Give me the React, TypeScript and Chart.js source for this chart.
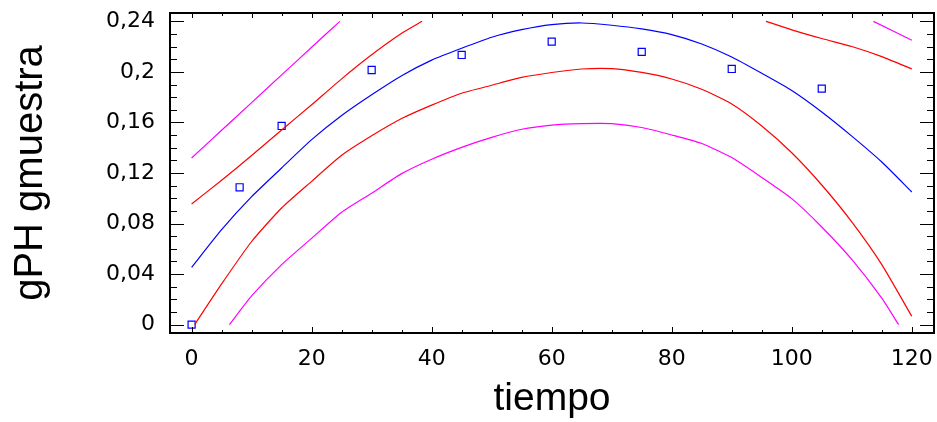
import React, { useEffect, useRef } from "react";
import { Chart, registerables } from "chart.js";

Chart.register(...registerables);

// Tick values and labels
const xTicks = [0, 20, 40, 60, 80, 100, 120];
const xTickLabels = ["0", "20", "40", "60", "80", "100", "120"];
const yTicks = [0, 0.04, 0.08, 0.12, 0.16, 0.2, 0.24];
const yTickLabels = ["0", "0,04", "0,08", "0,12", "0,16", "0,2", "0,24"];

// Observed data (blue squares)
const obsX = [0, 8, 15, 30, 45, 60, 75, 90, 105];
const obsY = [0, 0.1087, 0.1572, 0.2015, 0.2134, 0.2239, 0.2158, 0.2023, 0.1868];

// Fitted model (blue line)
const fitX = [0, 5, 10, 15, 20, 25, 30, 35, 40, 45, 50, 55, 60, 65, 70, 75, 80, 85, 90, 95, 100, 105, 110, 115, 120];
const fitY = [0.0454, 0.0752, 0.1013, 0.124, 0.1464, 0.1655, 0.1819, 0.197, 0.2093, 0.2187, 0.2274, 0.2334, 0.2374, 0.2387, 0.2369, 0.234, 0.2295, 0.2221, 0.2118, 0.1989, 0.1853, 0.1683, 0.1492, 0.1287, 0.105];

// Confidence limits (red)
const confUpperLeftX = [0, 5, 10, 15, 20, 25, 30, 35, 38.4];
const confUpperLeftY = [0.0955, 0.1143, 0.1338, 0.154, 0.174, 0.1945, 0.2135, 0.2305, 0.24];
const confUpperRightX = [95.7, 100, 105, 110, 115, 120];
const confUpperRightY = [0.24, 0.2333, 0.2264, 0.2201, 0.2121, 0.2023];
const confLowerX = [0.5, 5, 10, 15, 20, 25, 30, 35, 40, 45, 50, 55, 60, 65, 70, 75, 80, 85, 90, 95, 100, 105, 110, 115, 120];
const confLowerY = [0, 0.0322, 0.0658, 0.0923, 0.1134, 0.134, 0.1494, 0.1631, 0.1737, 0.1831, 0.1894, 0.1956, 0.1995, 0.2023, 0.2026, 0.1996, 0.1944, 0.1863, 0.1746, 0.1572, 0.136, 0.1105, 0.0813, 0.0475, 0.0066];

// Prediction limits (magenta)
const predUpperLeftX = [0, 5, 10, 15, 20, 24.7];
const predUpperLeftY = [0.1319, 0.1538, 0.1757, 0.1976, 0.2195, 0.24];
const predUpperRightX = [113.6, 120];
const predUpperRightY = [0.24, 0.225];
const predLowerX = [6.3, 10, 15, 20, 25, 30, 35, 40, 45, 50, 55, 60, 65, 70, 75, 80, 85, 90, 95, 100, 105, 110, 115, 117.8];
const predLowerY = [0, 0.0227, 0.0475, 0.0683, 0.0889, 0.104, 0.1195, 0.1309, 0.1403, 0.1482, 0.1546, 0.1579, 0.1591, 0.1591, 0.156, 0.1501, 0.1433, 0.1322, 0.1165, 0.0997, 0.0773, 0.0516, 0.021, 0];

const BLUE = "#0000ff";
const RED = "#ff0000";
const MAGENTA = "#ff00ff";

const pts = (xs: number[], ys: number[]) => xs.map((x, i) => ({ x, y: ys[i] }));

const lineDs = (label: string, xs: number[], ys: number[], color: string) => ({
  label,
  data: pts(xs, ys),
  showLine: true,
  borderColor: color,
  backgroundColor: color,
  borderWidth: 1.2,
  pointRadius: 0,
  pointHoverRadius: 0,
  tension: 0.2,
  fill: false,
});

const framePlugin = {
  id: "frameTicks",
  afterDatasetsDraw(chart: any) {
    const { ctx, chartArea, scales } = chart;
    const { left, right, top, bottom } = chartArea;
    const x = scales.x;
    const y = scales.y;
    ctx.save();
    ctx.strokeStyle = "#000";
    ctx.lineWidth = 1;
    ctx.beginPath();
    for (let v = 0; v <= 120; v += 5) {
      const px = Math.round(x.getPixelForValue(v)) + 0.5;
      const lb = v % 20 === 0 ? 6 : 3;
      const lt = v % 10 === 0 ? 5 : 3;
      ctx.moveTo(px, bottom);
      ctx.lineTo(px, bottom - lb);
      ctx.moveTo(px, top);
      ctx.lineTo(px, top + lt);
    }
    for (let i = 0; i <= 24; i++) {
      const py = Math.round(y.getPixelForValue(i / 100)) + 0.5;
      const l = i % 4 === 0 ? 14 : 7;
      ctx.moveTo(left, py);
      ctx.lineTo(left + l, py);
      ctx.moveTo(right, py);
      ctx.lineTo(right - l, py);
    }
    ctx.stroke();
    ctx.lineWidth = 2;
    ctx.strokeRect(left, top, right - left, bottom - top);
    ctx.restore();
  },
};

export default function App() {
  const canvasRef = useRef<HTMLCanvasElement | null>(null);

  useEffect(() => {
    if (!canvasRef.current) return;
    const chart = new Chart(canvasRef.current, {
      type: "scatter",
      data: {
        datasets: [
          lineDs("Prediction upper", predUpperLeftX, predUpperLeftY, MAGENTA),
          lineDs("Prediction upper 2", predUpperRightX, predUpperRightY, MAGENTA),
          lineDs("Prediction lower", predLowerX, predLowerY, MAGENTA),
          lineDs("Confidence upper", confUpperLeftX, confUpperLeftY, RED),
          lineDs("Confidence upper 2", confUpperRightX, confUpperRightY, RED),
          lineDs("Confidence lower", confLowerX, confLowerY, RED),
          lineDs("Fitted", fitX, fitY, BLUE),
          {
            label: "Observed",
            data: pts(obsX, obsY),
            showLine: false,
            pointStyle: "rect",
            pointRadius: 5,
            pointHoverRadius: 5,
            pointBorderWidth: 1.2,
            borderColor: BLUE,
            backgroundColor: "rgba(0,0,0,0)",
          } as any,
        ],
      },
      options: {
        animation: false,
        responsive: true,
        maintainAspectRatio: false,
        layout: { autoPadding: false, padding: { top: 13, right: 3, bottom: 0, left: 0 } },
        plugins: {
          legend: { display: false },
          tooltip: { enabled: false },
        },
        scales: {
          x: {
            type: "linear",
            min: -3.6,
            max: 123.7,
            afterBuildTicks: (s: any) => {
              s.ticks = xTicks.map((v) => ({ value: v }));
            },
            afterFit: (s: any) => {
              s.height = 89;
              s.paddingLeft = 0;
              s.paddingRight = 0;
            },
            grid: { display: false, drawTicks: false },
            border: { display: false },
            ticks: {
              autoSkip: false,
              maxRotation: 0,
              minRotation: 0,
              padding: 13,
              color: "#000",
              font: { family: "'DejaVu Sans'", size: 22 },
              callback: (_v: any, i: number) => xTickLabels[i],
            },
            title: {
              display: true,
              text: "tiempo",
              color: "#000",
              padding: 0,
              font: { family: "'Liberation Sans', Arial", size: 39, lineHeight: 1.15 },
            },
          },
          y: {
            type: "linear",
            min: -0.0066,
            max: 0.2466,
            afterBuildTicks: (s: any) => {
              s.ticks = yTicks.map((v) => ({ value: v }));
            },
            afterFit: (s: any) => {
              s.width = 170;
              s.paddingTop = 0;
              s.paddingBottom = 0;
            },
            grid: { display: false, drawTicks: false },
            border: { display: false },
            ticks: {
              autoSkip: false,
              padding: 15,
              color: "#000",
              font: { family: "'DejaVu Sans'", size: 22 },
              callback: (_v: any, i: number) => yTickLabels[i],
            },
            title: {
              display: true,
              text: "gPH gmuestra",
              color: "#000",
              padding: { top: 8, bottom: 0 },
              font: { family: "'Liberation Sans', Arial", size: 40, lineHeight: 1.15 },
            },
          },
        },
      },
      plugins: [framePlugin],
    });
    return () => chart.destroy();
  }, []);

  return (
    <div style={{ position: "fixed", left: 0, top: 0, width: 937, height: 422, background: "#fff" }}>
      <canvas ref={canvasRef} />
    </div>
  );
}
